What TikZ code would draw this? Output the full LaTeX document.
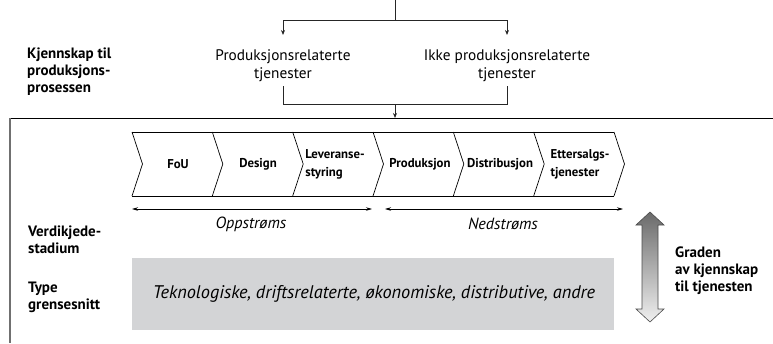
\documentclass[tikz,border=0pt]{standalone}
\usepackage{fontspec}
\setmainfont{PT Sans}
\usetikzlibrary{arrows.meta}
\definecolor{boxgray}{HTML}{D3D4D6}
\definecolor{framegray}{HTML}{707070}
\definecolor{arrowdark}{HTML}{6A6A6A}
\definecolor{arrowlight}{HTML}{F0F0F0}
\begin{document}
\begin{tikzpicture}[x=1pt,y=-1pt,
  lbl/.style={font=\fontsize{15}{17}\selectfont\bfseries, align=left, anchor=west, inner sep=0},
  svc/.style={font=\fontsize{15.3}{18}\selectfont, align=center, inner sep=0},
  stage/.style={font=\fontsize{12.8}{18}\selectfont\bfseries, align=left, inner sep=0},
  flow/.style={font=\fontsize{16.2}{18}\selectfont\itshape, inner sep=0},
  conn/.style={draw=black!85, line width=0.8pt},
  tip/.style={-{Stealth[length=5pt,width=4pt]}},
  span/.style={{Stealth[length=6pt,width=3.5pt]}-{Stealth[length=6pt,width=3.5pt]}, line width=0.7pt}
]
\useasboundingbox (0,0) rectangle (773,343);

% --- branching at the top ---
\coordinate (in) at (395,0);
\coordinate (split) at (395,20);
\coordinate (splitL) at (283,20);
\coordinate (splitR) at (507,20);
\node[svc] (prod) at (283,66) {Produksjonsrelaterte\\tjenester};
\node[svc] (ikke) at (507,66) {Ikke produksjonsrelaterte\\tjenester};
\coordinate (prodB) at (283,86);
\coordinate (ikkeB) at (507,86);
\coordinate (joinL) at (283,104);
\coordinate (joinR) at (507,104);
\coordinate (join) at (395,104);
\coordinate (frameIn) at (395,118);

\draw[conn] (in) -- (split);
\draw[conn,tip] (split) -- (splitL) -- (283,35);
\draw[conn,tip] (split) -- (splitR) -- (507,35);
\draw[conn] (prodB) -- (joinL) -- (joinR) -- (ikkeB);
\draw[conn,tip] (join) -- (frameIn);

% --- frame ---
\draw[black, line width=0.9pt] (10,118) -- (773,118);
\draw[framegray, line width=1.6pt] (10,118) -- (10,343);

% --- left-hand labels ---
\node[lbl] (kjenn) at (27,72) {Kjennskap til\\produksjons-\\prosessen};
\node[lbl] (verdi) at (28,240) {Verdikjede-\\stadium};
\node[lbl] (type) at (28,297) {Type\\grensesnitt};

% --- value chain of chevrons ---
\draw[line width=0.7pt] (132,132) -- (614,132);
\draw[line width=0.7pt] (132,196) -- (614,196);
\foreach \b in {132,212.3,292.7,373,453.3,533.7,614}
  \draw[line width=0.7pt] (\b,132) -- (\b+10.5,164) -- (\b,196);

\node[stage] (fou)  at (178,164) {FoU};
\node[stage] (des)  at (258,164) {Design};
\node[stage] (lev)  at (335,164) {Leveranse-\\styring};
\node[stage] (pro)  at (420,164) {Produksjon};
\node[stage] (dis)  at (500,164) {Distribusjon};
\node[stage] (ett)  at (580,164) {Ettersalgs-\\tjenester};

% --- upstream / downstream ---
\coordinate (upA) at (132,209);
\coordinate (upB) at (372,209);
\coordinate (dnA) at (385,209);
\coordinate (dnB) at (623,209);
\draw[span] (upA) -- (upB);
\draw[span] (dnA) -- (dnB);
\node[flow] (opp) at (251,224) {Oppstrøms};
\node[flow] (ned) at (503,224) {Nedstrøms};

% --- interface types ---
\fill[boxgray] (132,258) rectangle (614,330);
\node[font=\fontsize{18.3}{20}\selectfont\itshape, inner sep=0] (types) at (374,294)
  {Teknologiske, driftsrelaterte, økonomiske, distributive, andre};

% --- degree of service knowledge ---
\shade[top color=arrowdark, bottom color=arrowlight, draw=black!70, line width=0.6pt]
  (650,212) -- (664,225) -- (658,225) -- (658,309) -- (664,309) -- (650,322)
  -- (636,309) -- (642,309) -- (642,225) -- (636,225) -- cycle;
\node[lbl] (grad) at (675,271) {Graden\\av kjennskap\\til tjenesten};
\end{tikzpicture}
\end{document}
